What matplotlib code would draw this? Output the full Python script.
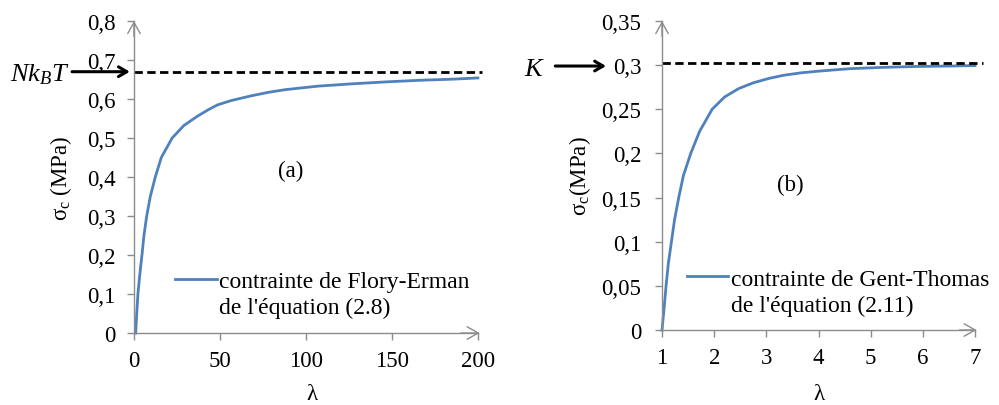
import matplotlib
matplotlib.use('Agg')
import matplotlib.pyplot as plt
from matplotlib.lines import Line2D

plt.rcParams['font.family'] = ['Liberation Serif', 'DejaVu Serif']
plt.rcParams['mathtext.fontset'] = 'custom'
plt.rcParams['mathtext.rm'] = 'Liberation Serif'
plt.rcParams['mathtext.it'] = 'Liberation Serif:italic'

# (a) Flory-Erman
lam_a = [1, 1.6, 2.3, 3.4, 4.65, 5.8, 7.4, 9.5, 12.4, 15.9, 22.2, 29, 36.6, 43, 48.6, 56.5, 68, 78, 88,
         107, 127, 147, 166, 186, 200]
sig_a = [0, 0.05, 0.1, 0.15, 0.2, 0.25, 0.3, 0.35, 0.4, 0.45, 0.5, 0.532, 0.555, 0.572, 0.585, 0.596,
         0.608, 0.617, 0.624, 0.633, 0.639, 0.644, 0.648, 0.651, 0.654]
NkBT = 0.67
yticks_a = [0, 0.1, 0.2, 0.3, 0.4, 0.5, 0.6, 0.7, 0.8]
ylabels_a = ['0', '0,1', '0,2', '0,3', '0,4', '0,5', '0,6', '0,7', '0,8']
xticks_a = [0, 50, 100, 150, 200]

# (b) Gent-Thomas
lam_b = [1, 1.04, 1.077, 1.12, 1.18, 1.24, 1.32, 1.41, 1.55, 1.72, 1.96, 2.2, 2.47, 2.75, 3.05, 3.33,
         3.65, 3.96, 4.6, 5.24, 5.87, 6.5, 7]
sig_b = [0, 0.025, 0.05, 0.075, 0.1, 0.125, 0.15, 0.175, 0.2, 0.225, 0.25, 0.264, 0.2735, 0.28, 0.285,
         0.2885, 0.2912, 0.293, 0.296, 0.2975, 0.2985, 0.299, 0.2995]
K = 0.302
yticks_b = [0, 0.05, 0.1, 0.15, 0.2, 0.25, 0.3, 0.35]
ylabels_b = ['0', '0,05', '0,1', '0,15', '0,2', '0,25', '0,3', '0,35']
xticks_b = [1, 2, 3, 4, 5, 6, 7]

blue = '#4f81bd'
grey = '#8c8c8c'
fs = 16.5
fs_leg = 17

fig = plt.figure(figsize=(9.99, 4.06), dpi=100)
ax1 = fig.add_axes([0.1341, 0.1773, 0.3443, 0.7685])
ax2 = fig.add_axes([0.6627, 0.1847, 0.3133, 0.7611])


def style(ax):
    for s in ['top', 'right']:
        ax.spines[s].set_visible(False)
    for s in ['left', 'bottom']:
        ax.spines[s].set_color(grey)
        ax.spines[s].set_linewidth(1)
    ax.tick_params(direction='out', length=5, width=1, color=grey, labelsize=fs)
    ax.tick_params(axis='y', pad=8)
    ax.tick_params(axis='x', pad=7)
    arr = dict(arrowstyle='->,head_length=0.8,head_width=0.45', color=grey, lw=1,
               shrinkA=0, shrinkB=0)
    ax.annotate('', xy=(1.005, 0), xytext=(0.95, 0), xycoords='axes fraction', arrowprops=arr)
    ax.annotate('', xy=(0, 1.0), xytext=(0, 0.95), xycoords='axes fraction', arrowprops=arr)


# panel a
ax1.plot(lam_a, sig_a, color=blue, lw=2, clip_on=False)
ax1.axhline(NkBT, xmin=0, xmax=1.012, color='black', ls=(0, (3, 1.6)), lw=2, clip_on=False)
ax1.set_xlim(0, 200)
ax1.set_ylim(0, 0.8)
ax1.set_xticks(xticks_a)
ax1.set_yticks(yticks_a)
ax1.set_yticklabels(ylabels_a)
style(ax1)
ax1.set_xlabel('λ', fontsize=fs)
ax1.xaxis.set_label_coords(0.517, -0.16)
ax1.set_ylabel('σ$_\\mathrm{c}$ (MPa)', fontsize=fs)
ax1.yaxis.set_label_coords(-0.175, 0.5)
ax1.text(0.455, 0.52, '(a)', transform=ax1.transAxes, fontsize=fs, ha='center', va='center')
ax1.annotate('', xy=(-0.012, NkBT), xytext=(-0.18, NkBT),
             xycoords=('axes fraction', 'data'),
             arrowprops=dict(arrowstyle='->,head_length=0.6,head_width=0.35', color='black', lw=2.2,
                             shrinkA=0, shrinkB=0), annotation_clip=False)
ax1.text(-0.186, NkBT - 0.005, '$Nk_BT$', transform=ax1.get_yaxis_transform(), fontsize=19,
         ha='right', va='center')
h1 = Line2D([], [], color=blue, lw=2)
h0 = Line2D([], [], linestyle='none')
ax1.legend([h1, h0], ['contrainte de Flory-Erman', "de l'équation (2.8)"],
           loc='upper left', bbox_to_anchor=(0.12, 0.2), frameon=False, fontsize=fs_leg,
           handlelength=1.75, handletextpad=0.1, labelspacing=0.2, borderpad=0,
           borderaxespad=0)

# panel b
ax2.plot(lam_b, sig_b, color=blue, lw=2, clip_on=False)
ax2.axhline(K, xmin=0, xmax=1.025, color='black', ls=(0, (3, 1.6)), lw=2, clip_on=False)
ax2.set_xlim(1, 7)
ax2.set_ylim(0, 0.35)
ax2.set_xticks(xticks_b)
ax2.set_yticks(yticks_b)
ax2.set_yticklabels(ylabels_b)
style(ax2)
ax2.tick_params(axis='y', pad=10)
ax2.set_xlabel('λ', fontsize=fs)
ax2.xaxis.set_label_coords(0.5, -0.17)
ax2.set_ylabel('σ$_\\mathrm{c}$(MPa)', fontsize=fs)
ax2.yaxis.set_label_coords(-0.22, 0.5)
ax2.text(0.41, 0.47, '(b)', transform=ax2.transAxes, fontsize=fs, ha='center', va='center')
ax2.annotate('', xy=(-0.179, K - 0.003), xytext=(-0.341, K - 0.003),
             xycoords=('axes fraction', 'data'),
             arrowprops=dict(arrowstyle='->,head_length=0.6,head_width=0.35', color='black', lw=2.2,
                             shrinkA=0, shrinkB=0), annotation_clip=False)
ax2.text(-0.375, K - 0.006, '$K$', transform=ax2.get_yaxis_transform(), fontsize=19,
         ha='right', va='center')
ax2.legend([h1, h0], ['contrainte de Gent-Thomas', "de l'équation (2.11)"],
           loc='upper left', bbox_to_anchor=(0.08, 0.2), frameon=False, fontsize=fs_leg,
           handlelength=1.75, handletextpad=0.1, labelspacing=0.2, borderpad=0,
           borderaxespad=0)

fig.savefig('out.png', dpi=100)
